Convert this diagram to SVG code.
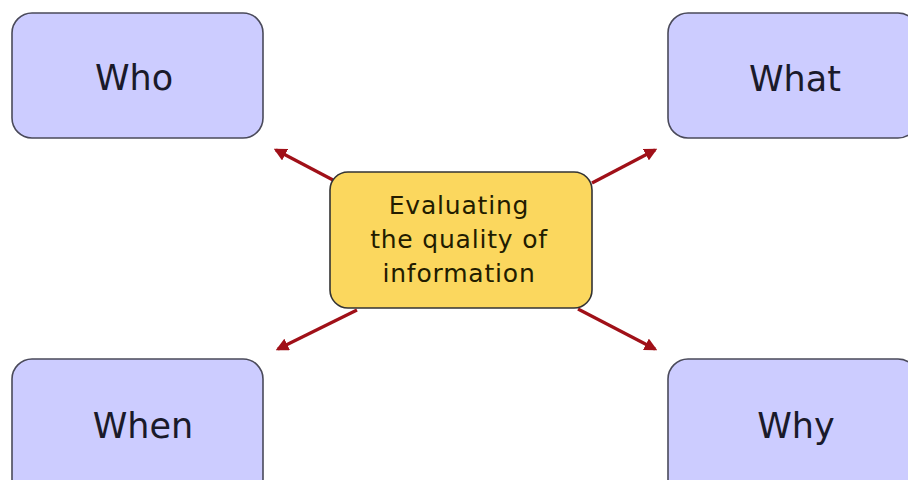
<svg xmlns="http://www.w3.org/2000/svg" width="908" height="480" viewBox="0 0 908 480">
<defs>
<style>
.box{fill:#ccccff;stroke:#4a4a5a;stroke-width:1.6}
.ctr{fill:#fbd75e;stroke:#333;stroke-width:1.6}
.lbl{font-family:"DejaVu Sans","Liberation Sans",sans-serif;font-size:35px;fill:#1a1a2a;text-anchor:middle}
.clbl{font-family:"DejaVu Sans","Liberation Sans",sans-serif;font-size:25px;letter-spacing:0.8px;fill:#221c00;text-anchor:middle}
.arr{stroke:#a01018;stroke-width:3.2;fill:none;marker-end:url(#ah)}
</style>
<marker id="ah" viewBox="0 0 10 10" refX="8" refY="5" markerWidth="4" markerHeight="4" orient="auto" markerUnits="strokeWidth">
<path d="M0,0 L10,5 L0,10 z" fill="#a01018"/>
</marker>
</defs>
<rect width="908" height="480" fill="#fff"/>
<g id="connectors">
<line class="arr" x1="333" y1="180" x2="276" y2="150"/>
<line class="arr" x1="592" y1="183" x2="655" y2="150"/>
<line class="arr" x1="357" y1="310" x2="278" y2="349"/>
<line class="arr" x1="578" y1="309" x2="655" y2="349"/>
</g>
<g id="who"><rect class="box" x="12" y="13" width="251" height="125" rx="20"/><text class="lbl" x="134" y="90">Who</text></g>
<g id="what"><rect class="box" x="668" y="13" width="250" height="125" rx="20"/><text class="lbl" x="795" y="91">What</text></g>
<g id="when"><rect class="box" x="12" y="359" width="251" height="140" rx="20"/><text class="lbl" x="143" y="438">When</text></g>
<g id="why"><rect class="box" x="668" y="359" width="250" height="140" rx="20"/><text class="lbl" x="796" y="438">Why</text></g>
<g id="center"><rect class="ctr" x="330" y="172" width="262" height="136" rx="18"/>
<text class="clbl" x="459" y="214">Evaluating</text>
<text class="clbl" x="459" y="248">the quality of</text>
<text class="clbl" x="459" y="282">information</text></g>
</svg>
